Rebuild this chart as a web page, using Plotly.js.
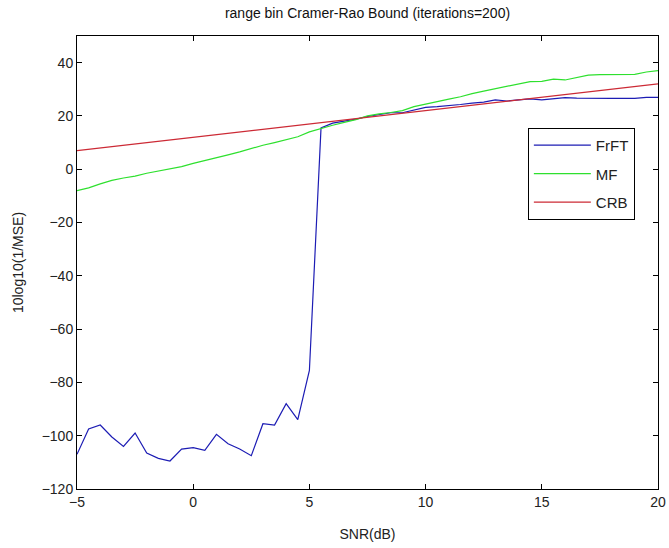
<!DOCTYPE html>
<html>
<head>
<meta charset="utf-8">
<script src="https://cdn.plot.ly/plotly-3.0.1.min.js"></script>
<style>html,body{margin:0;padding:0;background:#fff;}#chart{width:669px;height:548px;}</style>
</head>
<body>
<div id="chart"></div>
<script>
// SNR (dB) sample points
var snr = [-5,-4.5,-4,-3.5,-3,-2.5,-2,-1.5,-1,-0.5,0,0.5,1,1.5,2,2.5,3,3.5,4,4.5,5,5.5,6,6.5,7,7.5,8,8.5,9,9.5,10,10.5,11,11.5,12,12.5,13,13.5,14,14.5,15,15.5,16,16.5,17,17.5,18,18.5,19,19.5,20];

// 10log10(1/MSE) values
var frft = [-107,-97.5,-96,-100.5,-104,-99,-106.5,-108.5,-109.5,-105,-104.5,-105.5,-99.5,-103,-105,-107.5,-95.5,-96,-88,-94,-75.5,15.5,17.3,18,18.8,19.8,20.6,21.2,21.2,22.2,23.2,23.5,23.8,24.3,24.8,25.2,26,25.6,26,26.4,26,26.5,26.9,26.7,26.6,26.6,26.6,26.6,26.6,27,27];

var mf = [-8,-7,-5.5,-4.2,-3.3,-2.6,-1.5,-0.6,0.3,1,2.2,3.2,4.2,5.4,6.5,7.8,9,10,11,12.2,14,15.3,16.5,17.6,18.6,20,20.8,21.3,22,23.5,24.5,25.3,26.3,27.2,28.4,29.3,30.2,31.2,32.1,32.9,33,33.8,33.5,34.3,35.3,35.5,35.6,35.5,35.6,36.5,37];

var crb = [7,7.5,8,8.5,9,9.5,10,10.5,11,11.5,12,12.5,13,13.5,14,14.5,15,15.5,16,16.5,17,17.5,18,18.5,19,19.5,20,20.5,21,21.5,22,22.5,23,23.5,24,24.5,25,25.5,26,26.5,27,27.5,28,28.5,29,29.5,30,30.5,31,31.5,32];

var seriesNames = ['FrFT','MF','CRB'];
var xTicks = [-5,0,5,10,15,20];
var yTicks = [-120,-100,-80,-60,-40,-20,0,20,40];

var font = 'Liberation Sans, Arial, Helvetica, sans-serif';

var traces = [
  {x: snr, y: frft, name: seriesNames[0], type: 'scatter', mode: 'lines', legendgroup: 'a',
   line: {color: '#1c1cb4', width: 1.2}},
  {x: snr, y: mf, name: seriesNames[1], type: 'scatter', mode: 'lines', legendgroup: 'b',
   line: {color: '#2ee02e', width: 1.2}},
  {x: snr, y: crb, name: seriesNames[2], type: 'scatter', mode: 'lines', legendgroup: 'c',
   line: {color: '#cc2a35', width: 1.2}}
];

var axisCommon = {
  showgrid: false, zeroline: false, showline: true, linecolor: '#000', linewidth: 1,
  mirror: 'ticks', ticks: 'inside', ticklen: 5, tickcolor: '#000', tickwidth: 1,
  tickfont: {family: font, size: 14, color: '#222'}
};

var layout = {
  width: 669, height: 548,
  margin: {l: 77, r: 11, t: 36, b: 59},
  paper_bgcolor: '#fff', plot_bgcolor: '#fff',
  font: {family: font, color: '#222'},
  title: {text: 'range bin Cramer-Rao Bound (iterations=200)', font: {family: font, size: 14, color: '#111'},
          xref: 'paper', x: 0.5, xanchor: 'center', yref: 'container', y: 0.976, yanchor: 'middle'},
  xaxis: Object.assign({}, axisCommon, {
    range: [-5, 20], tickmode: 'array', tickvals: xTicks,
    title: {text: 'SNR(dB)', font: {family: font, size: 14, color: '#222'}, standoff: 20}
  }),
  yaxis: Object.assign({}, axisCommon, {
    range: [-120, 50], tickmode: 'array', tickvals: yTicks,
    title: {text: '10log10(1/MSE)', font: {family: font, size: 14, color: '#222'}, standoff: 14}
  }),
  showlegend: true,
  legend: {
    x: 0.776, y: 0.797, xanchor: 'left', yanchor: 'top',
    bgcolor: '#fff', bordercolor: '#000', borderwidth: 1,
    font: {family: font, size: 15, color: '#222'},
    itemwidth: 57, tracegroupgap: 6, traceorder: 'grouped'
  }
};

Plotly.newPlot('chart', traces, layout, {displayModeBar: false, staticPlot: true});
</script>
</body>
</html>
